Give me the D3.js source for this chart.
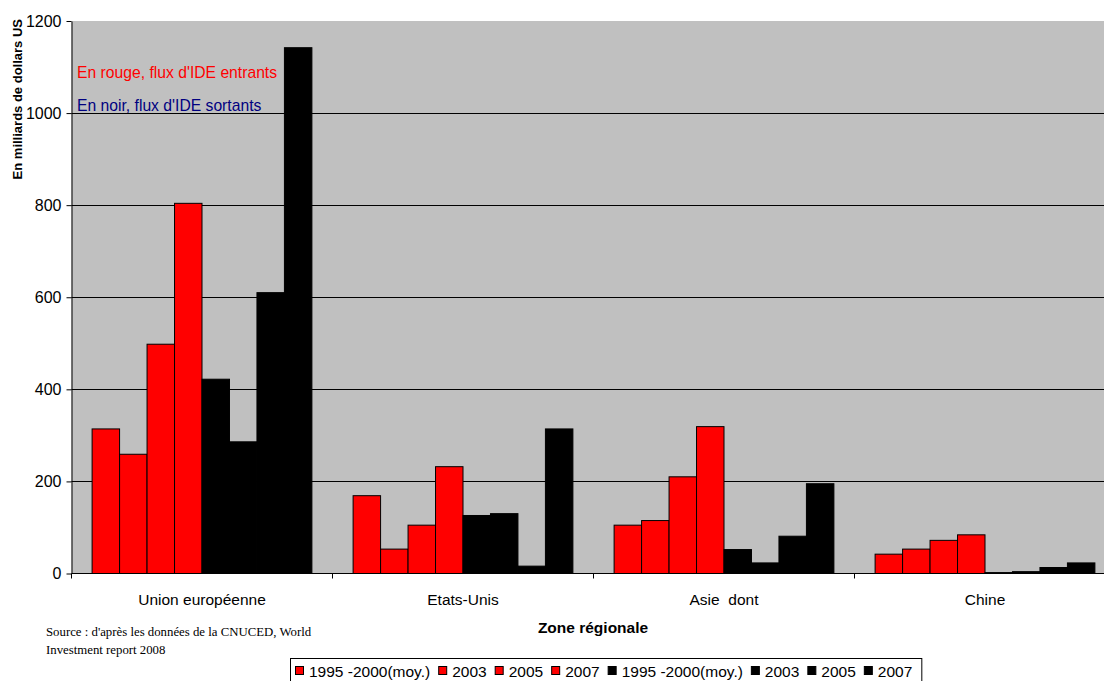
<!DOCTYPE html>
<html>
<head>
<meta charset="utf-8">
<script src="https://cdn.jsdelivr.net/npm/d3@7"></script>
<style>
  html, body { margin: 0; padding: 0; background: #fff; }
  svg { display: block; }
  text { font-family: "Liberation Sans", Arial, sans-serif; }
</style>
</head>
<body>
<svg id="chart" width="1104" height="681"></svg>
<script>
// Zones and periods
const categories = ["Union européenne", "Etats-Unis", "Asie  dont", "Chine"];
const periods = ["1995 -2000(moy.)", "2003", "2005", "2007"];

// FDI inflows (red), billions of US dollars, one value per period
const inflowUE    = [314, 259, 498, 804];
const inflowUS    = [169, 53, 105, 232];
const inflowAsia  = [105, 115, 210, 319];
const inflowChina = [42, 53, 72, 84];

// FDI outflows (black), billions of US dollars, one value per period
const outflowUE    = [422, 286, 610, 1142];
const outflowUS    = [126, 130, 16, 314];
const outflowAsia  = [52, 23, 81, 195];
const outflowChina = [2, 4, 13, 23];

const yTicks = [0, 200, 400, 600, 800, 1000, 1200];

const inflows = [inflowUE, inflowUS, inflowAsia, inflowChina];
const outflows = [outflowUE, outflowUS, outflowAsia, outflowChina];

// Eight series: four inflow periods, then four outflow periods
const series = [
  ...periods.map((p, i) => ({ key: "in" + i, label: p, color: "#ff0000", values: inflows.map(r => r[i]) })),
  ...periods.map((p, i) => ({ key: "out" + i, label: p, color: "#000000", values: outflows.map(r => r[i]) }))
];

const svg = d3.select("#chart");

const plot = { left: 71.5, top: 21, bottom: 573.5 };
const catWidth = 261;
plot.right = plot.left + catWidth * categories.length;

const x0 = d3.scaleBand().domain(categories).range([plot.left, plot.right]).padding(0);
const x1 = d3.scaleBand().domain(series.map(s => s.key)).range([0, x0.bandwidth()])
  .paddingInner(0).paddingOuter(0.75);
const y = d3.scaleLinear().domain([0, 1200]).range([plot.bottom, plot.top]);

// Plot background
svg.append("rect")
  .attr("x", plot.left).attr("y", plot.top)
  .attr("width", plot.right - plot.left).attr("height", plot.bottom - plot.top)
  .attr("fill", "#c0c0c0");

// Horizontal gridlines
svg.append("g").selectAll("line")
  .data(yTicks.filter(t => t > 0 && t < 1200))
  .join("line")
  .attr("x1", plot.left).attr("x2", plot.right)
  .attr("y1", d => Math.round(y(d)) + 0.5).attr("y2", d => Math.round(y(d)) + 0.5)
  .attr("stroke", "#000").attr("stroke-width", 1);

// Bars
const groups = svg.append("g").selectAll("g")
  .data(categories)
  .join("g")
  .attr("transform", d => `translate(${x0(d)},0)`);

groups.selectAll("rect")
  .data((c, ci) => series.map(s => ({ key: s.key, color: s.color, value: s.values[ci] })))
  .join("rect")
  .attr("x", d => x1(d.key))
  .attr("y", d => y(d.value))
  .attr("width", x1.bandwidth())
  .attr("height", d => y(0) - y(d.value))
  .attr("fill", d => d.color)
  .attr("stroke", "#000")
  .attr("stroke-width", 1);

// Y axis
const yAxis = d3.axisLeft(y).tickValues(yTicks).tickFormat(d3.format("d"))
  .tickSize(5).tickPadding(5).tickSizeOuter(0);
const gy = svg.append("g")
  .attr("transform", `translate(${plot.left},0)`)
  .call(yAxis);
gy.select(".domain").attr("stroke", "#000");
gy.selectAll(".tick line").attr("stroke", "#000");
gy.selectAll(".tick text")
  .attr("font-size", "16px")
  .attr("fill", "#000")
  .style("font-family", "'Liberation Sans', Arial, sans-serif");

// X axis: ticks at category boundaries
svg.append("line")
  .attr("x1", plot.left).attr("x2", plot.right)
  .attr("y1", plot.bottom).attr("y2", plot.bottom)
  .attr("stroke", "#000");
svg.append("g").selectAll("line")
  .data(d3.range(categories.length + 1))
  .join("line")
  .attr("x1", i => plot.left + i * x0.step()).attr("x2", i => plot.left + i * x0.step())
  .attr("y1", plot.bottom).attr("y2", plot.bottom + 5)
  .attr("stroke", "#000");

svg.append("g").selectAll("text")
  .data(categories)
  .join("text")
  .attr("x", d => x0(d) + x0.bandwidth() / 2)
  .attr("y", 605)
  .attr("text-anchor", "middle")
  .attr("font-size", "15.5px")
  .style("white-space", "pre")
  .attr("xml:space", "preserve")
  .text(d => d);

// Axis titles
svg.append("text")
  .attr("transform", "translate(22,19) rotate(-90)")
  .attr("text-anchor", "end")
  .attr("font-size", "13px")
  .attr("font-weight", "bold")
  .text("En milliards de dollars US");

svg.append("text")
  .attr("x", 593).attr("y", 633)
  .attr("text-anchor", "middle")
  .attr("font-size", "15.5px")
  .attr("font-weight", "bold")
  .text("Zone régionale");

// Annotations inside the plot
svg.append("text")
  .attr("x", 77).attr("y", 78)
  .attr("font-size", "15.7px")
  .attr("fill", "#ff0000")
  .text("En rouge, flux d'IDE entrants");
svg.append("text")
  .attr("x", 77).attr("y", 111)
  .attr("font-size", "15.7px")
  .attr("fill", "#000080")
  .text("En noir, flux d'IDE sortants");

// Source note
const src = svg.append("text")
  .attr("font-size", "12.8px")
  .style("font-family", "'Liberation Serif', 'Times New Roman', serif");
src.append("tspan").attr("x", 46).attr("y", 636).text("Source : d'après les données de la CNUCED, World");
src.append("tspan").attr("x", 46).attr("y", 654).text("Investment report 2008");

// Legend
const legend = svg.append("g");
const legendBox = legend.append("rect")
  .attr("y", 658.5).attr("height", 30)
  .attr("fill", "#fff").attr("stroke", "#000");
let lx = 295;
const swatch = 9, gapText = 5, gapItem = 8;
series.forEach(s => {
  legend.append("rect")
    .attr("x", lx + 0.5).attr("y", 666.5)
    .attr("width", swatch - 1).attr("height", swatch - 1)
    .attr("fill", s.color).attr("stroke", "#000");
  const t = legend.append("text")
    .attr("x", lx + swatch + gapText).attr("y", 677)
    .attr("font-size", "15.5px")
    .text(s.label);
  lx += swatch + gapText + t.node().getComputedTextLength() + gapItem;
});
legendBox.attr("x", 290.5).attr("width", lx - 290 + 1);
</script>
</body>
</html>
